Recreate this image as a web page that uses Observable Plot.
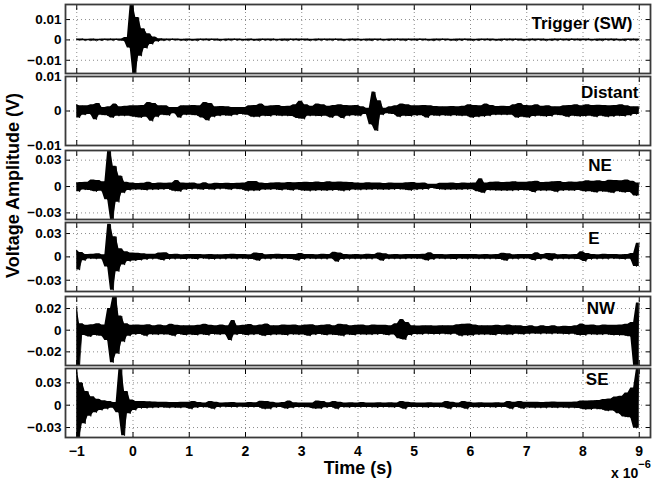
<!DOCTYPE html>
<html><head><meta charset="utf-8">
<script src="https://cdn.jsdelivr.net/npm/d3@7"></script>
<script src="https://cdn.jsdelivr.net/npm/@observablehq/plot@0.6"></script>
<style>
body{margin:0;background:#fff;}
#chart{position:relative;width:654px;height:483px;font-family:"Liberation Sans",Arial,Helvetica,sans-serif;font-weight:bold;color:#000;overflow:hidden;}
#chart svg{position:absolute;left:0;overflow:visible;}
</style></head><body><div id="chart"></div>
<script>
const t0 = -1, dt = 0.05;
const xTicks = [-1,0,1,2,3,4,5,6,7,8,9];
const panelNames = ["Trigger (SW)","Distant","NE","E","NW","SE"];

const trigger = [
 4,-3,5,-4,3,-4,4,-5,3,-4,4,-3,5,-4,4,-3,4,-6,12,-40,
 175,-170,110,-80,55,-42,30,-22,14,-9,6,-5,4,-4,5,-3,4,-4,3,-5,
 4,-4,3,-5,4,-3,5,-4,4,-3,4,-5,3,-4,4,-4,5,-3,4,-4,
 3,-4,5,-4,3,-5,4,-3,4,-4,5,-4,3,-4,4,-5,4,-3,5,-4,
 4,-3,4,-5,3,-4,5,-4,4,-3,4,-4,5,-3,4,-5,3,-4,4,-4,
 5,-4,3,-4,4,-5,4,-3,5,-4,3,-4,4,-4,5,-3,4,-5,4,-3,
 4,-4,5,-3,4,-4,3,-5,4,-4,5,-3,4,-4,3,-5,4,-4,5,-3,
 4,-5,3,-4,4,-3,5,-4,4,-4,3,-5,4,-3,5,-4,4,-3,4,-5,
 3,-4,5,-4,4,-3,4,-5,3,-4,5,-4,4,-3,4,-4,5,-3,4,-4,
 4,-3,5,-4,3,-4,4,-5,4,-3,5,-4,4,-4,3,-5,4,-3,4,-4,
 4];
const distant = [
 18,-20,15,-12,15,-10,18,-25,22,-12,10,-14,12,-20,20,-15,12,-15,14,-15,
 15,-18,15,-20,16,-18,25,-30,22,-18,15,-12,15,-14,10,-8,10,-20,15,-12,
 15,-12,16,-14,15,-20,25,-28,22,-18,12,-15,13,-14,12,-15,10,-12,10,-10,
 10,-12,15,-18,16,-18,20,-15,14,-16,15,-14,16,-15,13,-15,14,-16,18,-22,
 28,-24,18,-15,14,-15,20,-16,18,-15,14,-20,16,-15,18,-22,16,-15,15,-14,
 16,-15,12,-10,8,-40,55,-58,30,-12,8,-8,12,-10,15,-18,20,-15,18,-16,
 15,-14,15,-14,16,-20,15,-14,13,-15,12,-14,12,-15,13,-14,12,-15,14,-15,
 18,-20,16,-18,15,-17,20,-15,16,-12,13,-12,14,-12,13,-12,18,-20,22,-18,
 16,-20,15,-16,18,-15,14,-17,15,-16,12,-12,12,-14,15,-18,16,-15,18,-17,
 15,-16,18,-15,16,-18,17,-15,16,-18,15,-17,16,-15,18,-16,15,-14,12,-10,
 12];
const ne = [
 40,-60,45,-40,50,-45,75,-60,70,-55,55,-150,410,-375,230,-180,120,-75,50,-45,
 40,-38,35,-40,38,-45,48,-40,35,-38,40,-36,38,-35,40,-55,68,-60,40,-38,
 38,-35,40,-32,30,-38,42,-35,30,-40,38,-32,35,-30,38,-40,35,-30,38,-36,
 40,-55,58,-52,57,-50,40,-38,35,-38,40,-36,42,-45,40,-38,45,-48,42,-40,
 45,-50,48,-55,45,-50,52,-48,45,-50,55,-48,50,-45,52,-55,50,-48,45,-40,
 40,-42,38,-40,42,-38,40,-36,40,-38,35,-38,40,-36,38,-35,38,-40,42,-48,
 45,-40,38,-36,40,-35,25,-22,25,-35,38,-40,36,-38,40,-38,35,-38,40,-36,
 38,-36,40,-60,90,-75,40,-45,50,-48,52,-50,45,-50,48,-52,55,-48,50,-45,
 50,-48,55,-68,60,-50,45,-52,48,-50,55,-65,58,-50,45,-48,52,-50,48,-45,
 55,-60,65,-58,60,-70,65,-60,58,-65,72,-75,68,-60,65,-70,75,-68,60,-107,
 40];
const east = [
 86,-170,55,-50,30,-28,35,-30,40,-32,28,-130,420,-430,260,-190,105,-105,65,-60,
 50,-52,48,-45,40,-38,35,-32,35,-30,50,-48,52,-35,30,-32,35,-30,28,-35,
 30,-28,32,-35,30,-25,28,-32,30,-35,28,-30,26,-32,30,-28,35,-32,30,-28,
 30,-32,28,-35,50,-52,45,-30,28,-32,30,-28,35,-30,32,-28,30,-35,32,-50,
 45,-35,30,-28,32,-30,28,-30,35,-32,30,-28,60,-65,50,-35,30,-32,28,-30,
 30,-32,28,-30,35,-32,30,-28,50,-52,40,-30,28,-30,32,-30,28,-30,32,-28,
 30,-28,32,-30,35,-50,52,-38,30,-28,32,-30,28,-30,32,-35,30,-28,30,-32,
 30,-28,32,-30,28,-30,32,-30,28,-30,32,-35,48,-52,40,-30,28,-32,30,-28,
 30,-28,32,-48,52,-35,30,-28,45,-50,40,-30,28,-30,32,-30,28,-30,32,-35,
 65,-60,45,-35,30,-32,28,-30,35,-32,30,-28,32,-30,28,-35,32,-30,45,-125,
 175];
const nw = [
 220,-330,60,-48,45,-63,50,-48,60,-55,48,-95,200,-300,330,-220,130,-110,60,-55,
 45,-42,48,-40,45,-57,50,-42,40,-45,48,-42,40,-45,55,-57,45,-40,42,-48,
 42,-45,40,-48,45,-42,55,-50,45,-40,42,-45,48,-42,40,-95,90,-45,42,-40,
 45,-48,52,-45,40,-42,48,-55,57,-48,42,-45,40,-45,48,-50,45,-42,48,-45,
 42,-45,48,-55,50,-45,42,-40,45,-48,50,-45,42,-48,55,-57,50,-45,42,-48,
 45,-42,48,-45,40,-45,48,-42,45,-40,45,-48,42,-45,60,-80,98,-90,70,-50,
 42,-40,38,-42,40,-38,42,-40,38,-40,42,-38,40,-42,40,-38,50,-57,55,-52,
 57,-52,48,-45,42,-45,40,-45,42,-48,45,-40,42,-45,48,-45,42,-38,40,-42,
 35,-38,40,-35,32,-38,40,-36,35,-38,40,-35,32,-38,36,-40,35,-38,40,-50,
 57,-50,45,-42,48,-45,40,-45,48,-42,45,-48,45,-50,48,-52,55,-60,70,-330,
 250];
const se = [
 500,-440,300,-250,185,-150,115,-100,80,-70,60,-55,50,-40,37,-100,490,-410,185,-115,
 70,-70,50,-46,48,-44,46,-40,42,-38,40,-35,38,-40,36,-38,35,-40,38,-36,
 40,-55,50,-38,35,-32,30,-35,50,-55,38,-32,30,-28,32,-30,35,-32,30,-28,
 30,-32,35,-30,32,-30,52,-55,50,-55,40,-35,30,-32,35,-50,55,-40,32,-30,
 30,-32,28,-35,30,-50,55,-52,50,-35,32,-30,50,-55,40,-32,30,-35,32,-30,
 30,-32,35,-30,28,-32,30,-35,32,-30,28,-30,32,-35,30,-32,50,-55,40,-30,
 32,-30,28,-32,30,-35,32,-30,28,-32,30,-35,48,-55,40,-32,30,-35,50,-55,
 40,-32,30,-35,32,-30,28,-32,30,-35,32,-30,28,-32,50,-55,40,-32,50,-52,
 40,-38,40,-42,38,-40,36,-42,40,-38,42,-40,38,-36,40,-42,38,-40,42,-45,
 55,-60,58,-62,60,-55,62,-60,75,-80,82,-78,110,-115,120,-160,165,-170,230,-310,
 490];

const series = [trigger, distant, ne, east, nw, se];
const yDomains = [[-0.0165,0.0174],[-0.01,0.01],[-0.0375,0.041],[-0.0445,0.0442],[-0.0326,0.0311],[-0.0434,0.0493]];
const yTicks = [[-0.01,0,0.01],[-0.01,0,0.01],[-0.03,0,0.03],[-0.03,0,0.03],[-0.02,0,0.02],[-0.03,0,0.03]];

// layout
const frameTops = [4, 76.3, 150, 222.3, 295.7, 368.3];
const frameH = 69;
const labelPos = [
  {anchor:"top-right", dx:-18, dy:12, ta:"end"},
  {anchor:"top-right", dx:-12, dy:9, ta:"end"},
  {anchor:"top-left", dx:522.7, dy:8.5, ta:"start"},
  {anchor:"top-left", dx:522.7, dy:9.2, ta:"start"},
  {anchor:"top-left", dx:521.3, dy:5.8, ta:"start"},
  {anchor:"top-left", dx:520.3, dy:4.2, ta:"start"}
];

const minus = d => d === 0 ? "0" : (d < 0 ? "\u2212" : "") + Math.abs(d);
const yFmt = d => d === 0 ? "0" : (d < 0 ? "\u2212" : "") + Math.abs(d).toFixed(2);
const blank = () => "";
const chart = document.getElementById("chart");

series.forEach((vals, k) => {
  // each sample plus its neighbour bounds the oscillation band drawn at that instant
  const rows = vals.map((v, i) => {
    const w = vals[i + 1] !== undefined ? vals[i + 1] : vals[i - 1];
    return {t: t0 + i * dt, v: v * 1e-4, lo: Math.min(v, w) * 1e-4, hi: Math.max(v, w) * 1e-4};
  });
  const last = k === series.length - 1;
  const mb = last ? 40 : 2;
  const gridStyle = {stroke:"#8c8c8c", strokeOpacity:1, strokeWidth:1, strokeDasharray:"1,3"};
  const svg = Plot.plot({
    width: 654,
    height: frameH + 2 + mb,
    marginLeft: 65, marginRight: 4, marginTop: 2, marginBottom: mb,
    x: {domain: [-1.2, 9.2]},
    y: {domain: yDomains[k]},
    style: {fontFamily: '"Liberation Sans", Arial, Helvetica, sans-serif', fontWeight: "bold", fontSize: "13px", background: "transparent", color: "#000"},
    marks: [
      Plot.gridX(xTicks, gridStyle),
      Plot.gridY(yTicks[k], gridStyle),
      Plot.areaY(rows, {x: "t", y1: "lo", y2: "hi", fill: "#000", fillOpacity: 1, clip: true}),
      Plot.line(rows, {x: "t", y: "v", stroke: "#000", strokeWidth: 0.8, clip: true}),
      Plot.axisY(yTicks[k], {anchor: "left", tickSize: -5, tickPadding: 9, tickFormat: yFmt, label: null, fontSize: 13.5}),
      Plot.axisY(yTicks[k], {anchor: "right", tickSize: -5, tickFormat: blank, label: null}),
      Plot.axisX(xTicks, {anchor: "bottom", tickSize: -5, tickPadding: 14, tickFormat: last ? minus : blank, label: null, fontSize: 14}),
      Plot.axisX(xTicks, {anchor: "top", tickSize: -5, tickFormat: blank, label: null}),
      Plot.frame({stroke: "#3a3a3a", strokeWidth: 1.8}),
      Plot.text([panelNames[k]], {frameAnchor: labelPos[k].anchor, dx: labelPos[k].dx, dy: labelPos[k].dy,
        textAnchor: labelPos[k].ta, lineAnchor: "top", fontSize: 17, fontWeight: "bold", fill: "#000"})
    ]
  });
  svg.style.top = (frameTops[k] - 2) + "px";
  chart.appendChild(svg);
});

// overlay titles
const ov = d3.select(chart).append("svg").attr("width", 654).attr("height", 483).style("top", "0px")
  .style("font-family", '"Liberation Sans", Arial, Helvetica, sans-serif').style("font-weight", "bold");
ov.append("text").attr("transform", "translate(19,185.5) rotate(-90)").attr("text-anchor", "middle")
  .style("font-size", "18px").text("Voltage Amplitude (V)");
ov.append("text").attr("x", 358).attr("y", 474.3).attr("text-anchor", "middle")
  .style("font-size", "18px").text("Time (s)");
const ex = ov.append("text").attr("x", 611).attr("y", 477.7).style("font-size", "14px");
ex.append("tspan").text("x 10");
ex.append("tspan").attr("dy", -10).style("font-size", "11px").text("\u22126");
</script></body></html>
